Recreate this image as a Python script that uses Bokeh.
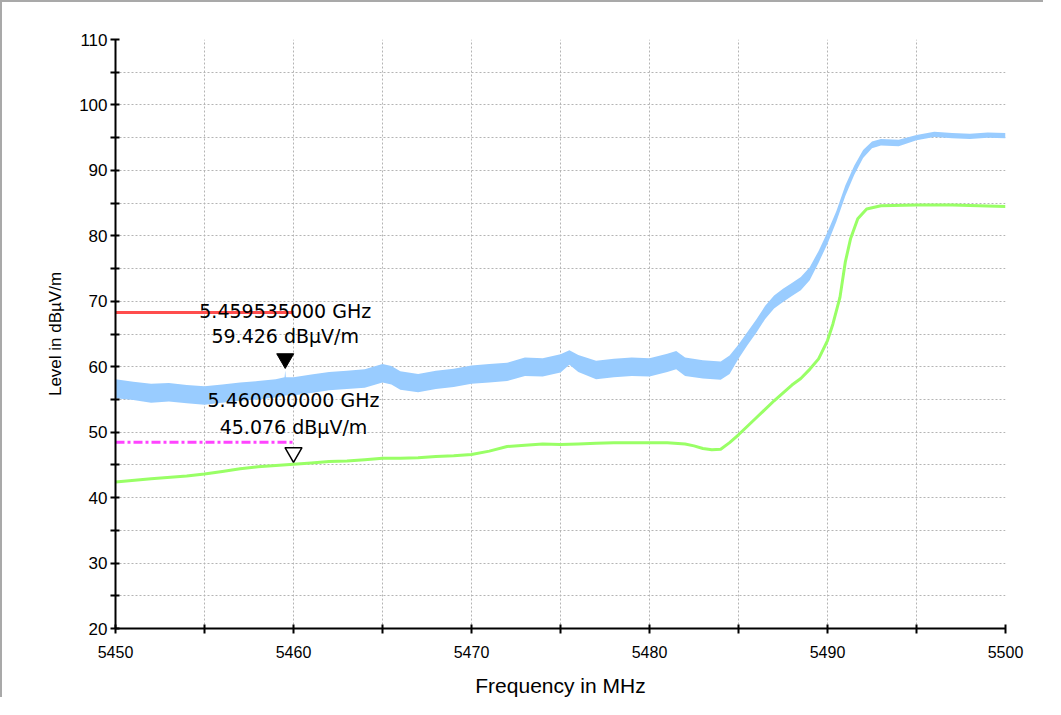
from bokeh.plotting import figure
from bokeh.models import FixedTicker
from bokeh.core.properties import value
from bokeh.embed import file_html
from bokeh.resources import INLINE

# ---------------- data ----------------
x_ticks = [5450, 5455, 5460, 5465, 5470, 5475, 5480, 5485, 5490, 5495, 5500]
x_labels = {5450: "5450", 5455: "", 5460: "5460", 5465: "", 5470: "5470", 5475: "",
            5480: "5480", 5485: "", 5490: "5490", 5495: "", 5500: "5500"}
y_ticks = [20, 25, 30, 35, 40, 45, 50, 55, 60, 65, 70, 75, 80, 85, 90, 95, 100, 105, 110]
y_labels = {20: "20", 25: "", 30: "30", 35: "", 40: "40", 45: "", 50: "50", 55: "", 60: "60",
            65: "", 70: "70", 75: "", 80: "80", 85: "", 90: "90", 95: "", 100: "100", 105: "",
            110: "110"}

# peak trace (light blue band, low / high envelope)
blue_f = [5450, 5451, 5452, 5453, 5454, 5455, 5456, 5457, 5458, 5459, 5459.5, 5459.535, 5459.57,
          5460, 5461, 5462, 5463, 5464, 5465, 5465.5, 5466, 5467, 5468, 5469, 5470, 5471, 5472,
          5473, 5474, 5475, 5475.5, 5476, 5477, 5478, 5479, 5480, 5481, 5481.5, 5482, 5483, 5484,
          5484.5, 5485, 5485.5, 5486, 5486.5, 5487, 5487.5, 5488, 5488.5, 5489, 5489.5, 5490,
          5490.5, 5491, 5491.5, 5492, 5492.5, 5493, 5494, 5495, 5496, 5497, 5498, 5499, 5500]
blue_lo = [55.2, 54.9, 54.5, 54.7, 54.4, 54.2, 54.5, 54.8, 55.0, 55.3, 55.6, 55.6, 55.6,
           55.6, 56.0, 56.4, 56.6, 56.8, 57.6, 57.3, 56.5, 56.1, 56.6, 56.9, 57.4, 57.6, 57.8,
           58.6, 58.5, 59.1, 60.3, 59.2, 58.1, 58.4, 58.6, 58.5, 59.2, 59.6, 58.6, 58.2, 58.0,
           58.9, 61.2, 63.3, 65.2, 67.3, 68.9, 69.9, 70.8, 71.7, 73.2, 75.9, 78.8,
           82.2, 86.1, 89.3, 91.9, 93.4, 93.8, 93.7, 94.6, 95.1, 94.9, 94.8, 95.0, 94.9]
blue_hi = [58.1, 57.7, 57.4, 57.5, 57.2, 57.0, 57.3, 57.6, 57.8, 58.1, 58.4, 59.43, 58.4,
           58.4, 58.8, 59.2, 59.4, 59.6, 60.4, 60.1, 59.3, 58.9, 59.4, 59.7, 60.2, 60.4, 60.6,
           61.4, 61.3, 61.9, 62.5, 61.8, 60.9, 61.2, 61.4, 61.3, 62.0, 62.4, 61.4, 61.0, 60.8,
           61.7, 63.4, 65.3, 67.2, 69.3, 70.9, 71.9, 72.8, 73.7, 75.2, 77.7, 80.6,
           83.8, 87.7, 90.7, 93.1, 94.4, 94.8, 94.7, 95.4, 95.9, 95.7, 95.6, 95.8, 95.7]

# average trace (green)
green_f = [5450, 5452, 5454, 5455, 5456, 5457, 5458, 5459, 5460, 5461, 5462, 5463, 5464, 5465,
           5466, 5467, 5468, 5469, 5470, 5471, 5472, 5473, 5474, 5475, 5476, 5477, 5478, 5479,
           5480, 5481, 5482, 5482.5, 5483, 5483.5, 5484, 5484.5, 5485, 5486, 5487, 5488, 5488.5,
           5489, 5489.5, 5490, 5490.3, 5490.7, 5491, 5491.3, 5491.7, 5492.2, 5493, 5495, 5497, 5500]
green_v = [42.4, 42.9, 43.3, 43.6, 44.0, 44.4, 44.7, 44.9, 45.1, 45.3, 45.5, 45.6, 45.8, 46.0,
           46.0, 46.1, 46.3, 46.4, 46.6, 47.1, 47.8, 48.0, 48.2, 48.1, 48.2, 48.3, 48.4, 48.4,
           48.4, 48.4, 48.2, 47.9, 47.5, 47.3, 47.4, 48.4, 49.6, 52.2, 54.8, 57.2, 58.2,
           59.6, 61.2, 64.0, 66.5, 70.6, 76.0, 79.6, 82.6, 84.1, 84.6, 84.7, 84.7, 84.5]

# limit lines
limit_f = [5450, 5460]
peak_limit = [68.3, 68.3]
avg_limit = [48.45, 48.45]

# markers
mk_f = [5459.535, 5460.0]
mk_v = [59.426, 45.076]
mk_freq_text = ["5.459535000 GHz", "5.460000000 GHz"]
mk_level_text = ["59.426 dBµV/m", "45.076 dBµV/m"]

# ---------------- layout ----------------
W, H = 1043, 697          # plus a 2px frame line on top and left
BL, BR, BT, BB = 113, 40, 37, 71
Y0, Y1 = 20, 110
px_per_db = (H - BT - BB) / (Y1 - Y0)

FONT = "Liberation Sans"

p = figure(width=W, height=H, x_range=(5450, 5500), y_range=(Y0, Y1),
           output_backend="svg", toolbar_location=None,
           min_border_left=BL, min_border_right=BR, min_border_top=BT, min_border_bottom=BB,
           x_axis_label="Frequency in MHz", y_axis_label="Level in dBµV/m")
p.styles = {"border-top": "2px solid #a9a9a9", "border-left": "2px solid #a9a9a9"}
p.outline_line_color = None
p.background_fill_color = "white"
p.border_fill_color = "white"

for ax, ticks, labels in ((p.xaxis, x_ticks, x_labels), (p.yaxis, y_ticks, y_labels)):
    ax.ticker = FixedTicker(ticks=ticks)
    ax.major_label_overrides = labels
    ax.axis_line_color = "black"
    ax.axis_line_width = 2
    ax.major_tick_line_color = "black"
    ax.major_tick_line_width = 2
    ax.major_tick_in = 4
    ax.major_tick_out = 5
    ax.minor_tick_line_color = None
    ax.major_label_text_font = FONT
    ax.major_label_text_color = "black"
    ax.axis_label_text_font = FONT
    ax.axis_label_text_font_style = "normal"
    ax.axis_label_text_color = "black"

p.xaxis.major_label_text_font_size = "16px"
p.xaxis.major_label_standoff = 12
p.xaxis.axis_label_text_font_size = "21px"
p.xaxis.axis_label_standoff = 13
p.yaxis.major_label_text_font_size = "17px"
p.yaxis.major_label_standoff = 3
p.yaxis.axis_label_text_font_size = "17px"
p.yaxis.axis_label_standoff = 11

p.xgrid.ticker = FixedTicker(ticks=x_ticks)
p.ygrid.ticker = FixedTicker(ticks=y_ticks)
for g in (p.xgrid, p.ygrid):
    g.grid_line_color = "#b4b4b4"
    g.grid_line_dash = "2 2"
    g.grid_line_width = 1

# traces
p.varea(x=blue_f, y1=blue_lo, y2=blue_hi, fill_color="#99CCFF")
p.line(green_f, green_v, line_color="#99FF66", line_width=3)

# limit lines
p.line(limit_f, peak_limit, line_color="#FF4D4D", line_width=3)
p.line(limit_f, avg_limit, line_color="#FF44FF", line_width=3, line_dash="9 3 3 3")

# markers (apex of the triangle sits just above the marked point)
size = 17
apex_px = (size / 2) * (3 ** 0.5) * 2 / 3 + 2
off = apex_px / px_per_db
p.scatter(x=[mk_f[0]], y=[mk_v[0] + off], marker="inverted_triangle", size=size,
          fill_color="black", line_color="black", line_width=1)
p.scatter(x=[mk_f[1]], y=[mk_v[1] + off], marker="inverted_triangle", size=size,
          fill_color="white", line_color="black", line_width=1.5)

# marker texts
for txt, offs in ((mk_freq_text, [-59, -64]), (mk_level_text, [-34, -37])):
    p.text(x=mk_f, y=mk_v, text=txt, y_offset=offs, text_font=value("DejaVu Sans"),
           text_font_size="19px", text_align="center", text_baseline="middle",
           text_color="black")

open("out.html", "w").write(file_html(p, INLINE))
